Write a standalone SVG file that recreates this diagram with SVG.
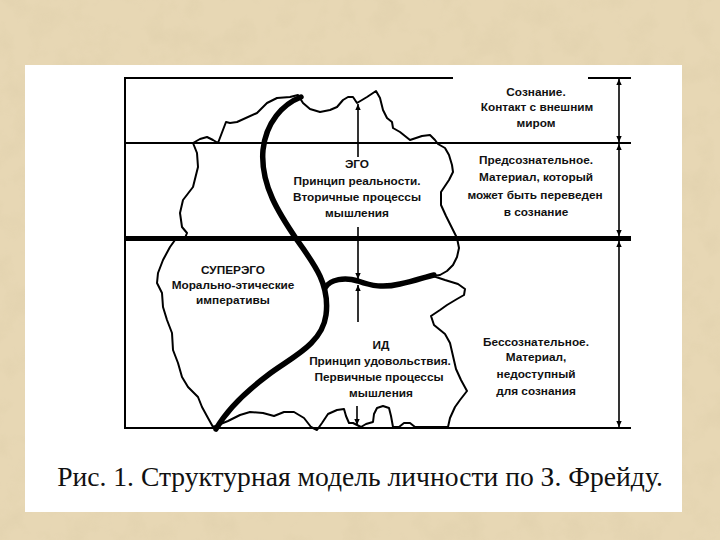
<svg xmlns="http://www.w3.org/2000/svg" width="720" height="540" viewBox="0 0 720 540">
  <defs>
    <style>
      .lbl { font-family: "Liberation Sans", Arial, sans-serif; font-size: 11.8px; font-weight: bold; fill: #111; text-anchor: middle; }
      .cap { font-family: "Liberation Serif", "Times New Roman", serif; font-size: 27.6px; fill: #111; text-anchor: middle; }
      .thin { fill: none; stroke: #000; stroke-width: 2; stroke-linejoin: round; }
      .thick { fill: none; stroke: #000; stroke-width: 5.5; stroke-linecap: round; }
      .rule { stroke: #000; stroke-width: 2; }
      .arr { stroke: #000; stroke-width: 1.6; fill: none; marker-end: url(#ah); }
      .arr2 { stroke: #000; stroke-width: 1.6; fill: none; marker-start: url(#ah); marker-end: url(#ah); }
    </style>
    <marker id="ah" viewBox="0 0 10 10" refX="10" refY="5" markerWidth="8" markerHeight="6" orient="auto-start-reverse" markerUnits="userSpaceOnUse">
      <path d="M0,0.5 L10,5 L0,9.5 z" fill="#000"/>
    </marker>
    <filter id="grain" x="0" y="0" width="100%" height="100%">
      <feTurbulence type="fractalNoise" baseFrequency="0.035" numOctaves="4" seed="7" result="n"/>
      <feColorMatrix in="n" type="matrix" values="0 0 0 0 0.66  0 0 0 0 0.56  0 0 0 0 0.36  0 0 0 1.4 -0.6"/>
    </filter>
  </defs>

  <!-- parchment background -->
  <rect x="0" y="0" width="720" height="540" fill="#e7d7b4"/>
  <rect x="0" y="0" width="720" height="540" filter="url(#grain)" opacity="0.35"/>
  <!-- white panel -->
  <rect x="25" y="65" width="657" height="447" fill="#ffffff"/>

  <!-- frame / level rules -->
  <g id="levels">
    <line class="rule" x1="125" y1="77" x2="125" y2="429"/>
    <line class="rule" x1="124" y1="78" x2="453" y2="78"/>
    <line class="rule" x1="588" y1="78" x2="631" y2="78"/>
    <line class="rule" x1="124" y1="143" x2="631" y2="143"/>
    <line x1="124" y1="238.5" x2="631" y2="238.5" stroke="#000" stroke-width="5"/>
    <line class="rule" x1="124" y1="428" x2="631" y2="428" stroke-width="2.5"/>
  </g>

  <!-- personality outline -->
  <g id="outline">
    <path class="thin" d="M193,143 L200,139 L207,137 L213,140 L218,143 L226,122 L230,123 L237,122 L257,113 L262,108 L267,103 L277,98 L290,97 L298,95 L303,103 L310,109 L320,112 L330,110 L337,107 L343,100 L348,97 L353,97 L357,103 L367,97 L376,91 L380,98 L383,110 L387,118 L392,122 L393,128 L400,132 L410,140 L422,136 L430,135 L435,140 L438,144 L445,148 L449,155 L452,165 L453,172 L449,180 L441,192 L441,205 L446,216 L452,228 L457,238 L459,248 L457,257 L453,265 L447,271 L440,275 L433,276 L445,280 L458,284 L465,289 L464,295 L457,299 L447,305 L440,310 L431,316 L434,325 L445,334 L450,343 L453,356 L456,369 L461,380 L467,391 L460,400 L455,407 L450,418 L448,427 L430,427 L415,427 L410,423 L404,423 L399,427 L393,427 L391,416 L389,408 L383,406 L377,408 L374,414 L373,422 L366,424 L361,427 L353,423 L349,423 L346,416 L344,409 L337,410 L328,414 L322,423 L317,430 L311,427 L304,418 L294,412 L284,412 L274,416 L263,413 L250,412 L240,415 L228,421 L213,427 L208,418 L202,407 L198,397 L188,387 L182,377 L178,363 L173,350 L172,333 L167,320 L163,307 L162,293 L157,283 L158,273 L163,260 L170,247 L175,240 L185,238 L187,233 L182,227 L180,213 L183,200 L193,187 L198,167 L197,153 Z"/>
  </g>

  <!-- structural boundaries -->
  <g id="boundaries">
    <path class="thick" d="M301,97 C283,104 266,122 263,150 C260,185 280,215 297,240 C315,265 330,285 326,315 C322,345 290,358 268,375 C248,390 228,408 216,429"/>
    <path class="thick" stroke-width="4.5" d="M325,288 C330,279 345,277 358,281 C372,286 383,288 400,284 C415,281 425,277 434,275"/>
  </g>

  <!-- connectors -->
  <g id="connectors">
    <line class="arr" x1="358" y1="157" x2="358" y2="104"/>
    <line class="arr" x1="358" y1="227" x2="358" y2="279"/>
    <line class="arr" x1="358" y1="322" x2="358" y2="285"/>
    <line class="arr" x1="357" y1="406" x2="357" y2="425"/>
    <line class="arr2" x1="619" y1="79" x2="619" y2="142"/>
    <line class="arr2" x1="619" y1="144" x2="619" y2="236"/>
    <line class="arr2" x1="619" y1="241" x2="619" y2="427"/>
  </g>

  <g id="ego">
    <text class="lbl" x="357" y="168">ЭГО</text>
    <text class="lbl" x="357" y="185">Принцип реальности.</text>
    <text class="lbl" x="357" y="201">Вторичные процессы</text>
    <text class="lbl" x="357" y="217">мышления</text>
  </g>

  <g id="superego">
    <text class="lbl" x="233" y="274">СУПЕРЭГО</text>
    <text class="lbl" x="233" y="289">Морально-этические</text>
    <text class="lbl" x="233" y="304">императивы</text>
  </g>

  <g id="id">
    <text class="lbl" x="381" y="349">ИД</text>
    <text class="lbl" x="380" y="365">Принцип удовольствия.</text>
    <text class="lbl" x="379" y="381">Первичные процессы</text>
    <text class="lbl" x="381" y="397">мышления</text>
  </g>

  <g id="conscious">
    <text class="lbl" x="536" y="96">Сознание.</text>
    <text class="lbl" x="537" y="111">Контакт с внешним</text>
    <text class="lbl" x="536" y="127">миром</text>
  </g>

  <g id="preconscious">
    <text class="lbl" x="536" y="164">Предсознательное.</text>
    <text class="lbl" x="536" y="181">Материал, который</text>
    <text class="lbl" x="535" y="199">может  быть переведен</text>
    <text class="lbl" x="536" y="216">в сознание</text>
  </g>

  <g id="unconscious">
    <text class="lbl" x="536" y="346">Бессознательное.</text>
    <text class="lbl" x="536" y="361">Материал,</text>
    <text class="lbl" x="536" y="378">недоступный</text>
    <text class="lbl" x="536" y="395">для сознания</text>
  </g>

  <text class="cap" x="360" y="486">Рис. 1. Структурная модель личности по З. Фрейду.</text>
</svg>
